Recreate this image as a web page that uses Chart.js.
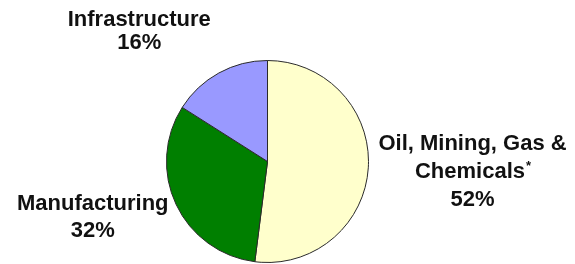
<!DOCTYPE html>
<html>
<head>
<meta charset="utf-8">
<script src="https://cdn.jsdelivr.net/npm/chart.js@4.4.1/dist/chart.umd.min.js"></script>
<style>
  html, body { margin: 0; padding: 0; background: #fff; }
  #wrap { width: 575px; height: 264px; position: relative; }
</style>
</head>
<body>
<div id="wrap"><canvas id="pie"></canvas></div>
<script>
// data
const categories = ['Oil, Mining, Gas & Chemicals*', 'Manufacturing', 'Infrastructure'];
const shares = [52, 32, 16];
const labelLines = [
    ['Oil, Mining, Gas &', 'Chemicals*', '52%'],
    ['Manufacturing', '32%'],
    ['Infrastructure', '16%']
];
const sliceColors = ['#FFFFCC', '#007F00', '#9999FF'];

// where each label block sits, in radii from the pie centre
const labelPos = [
    { dx: 2.03, dy: 0.10, lh: 28 },
    { dx: -1.73, dy: 0.55, lh: 27 },
    { dx: -1.27, dy: -1.29, lh: 23 }
];

const mainFont = 'bold 22px "Liberation Sans", Arial, sans-serif';
const starFont = 'bold 13px "Liberation Sans", Arial, sans-serif';

// draws a line, with a trailing * set smaller and raised
function drawLine(ctx, text, cx, y) {
    if (!text.endsWith('*')) {
        ctx.font = mainFont;
        ctx.textAlign = 'center';
        ctx.fillText(text, cx, y);
        return;
    }
    const body = text.slice(0, -1);
    ctx.font = mainFont;
    const w1 = ctx.measureText(body).width;
    ctx.font = starFont;
    const w2 = ctx.measureText('*').width;
    const x0 = cx - (w1 + w2) / 2;
    ctx.textAlign = 'left';
    ctx.font = mainFont;
    ctx.fillText(body, x0, y);
    ctx.font = starFont;
    ctx.fillText('*', x0 + w1 + 1, y - 5);
}

const sliceLabels = {
    id: 'sliceLabels',
    afterDraw(chart) {
        const ctx = chart.ctx;
        const arcs = chart.getDatasetMeta(0).data;
        ctx.save();
        ctx.fillStyle = '#111';
        ctx.textBaseline = 'middle';
        arcs.forEach((arc, i) => {
            const r = arc.outerRadius;
            const p = labelPos[i];
            const lines = labelLines[i];
            const cx = arc.x + p.dx * r;
            const cy = arc.y + p.dy * r;
            const top = cy - (lines.length - 1) * p.lh / 2;
            lines.forEach((t, k) => drawLine(ctx, t, cx, top + k * p.lh));
        });
        ctx.restore();
    }
};

new Chart(document.getElementById('pie'), {
    type: 'pie',
    data: {
        labels: categories,
        datasets: [{
            data: shares,
            backgroundColor: sliceColors,
            borderColor: '#2a2a2a',
            borderWidth: 1
        }]
    },
    options: {
        responsive: true,
        maintainAspectRatio: false,
        animation: false,
        layout: { padding: { left: 166, right: 206, top: 60, bottom: 1 } },
        plugins: {
            legend: { display: false },
            tooltip: { enabled: false }
        }
    },
    plugins: [sliceLabels]
});
</script>
</body>
</html>
